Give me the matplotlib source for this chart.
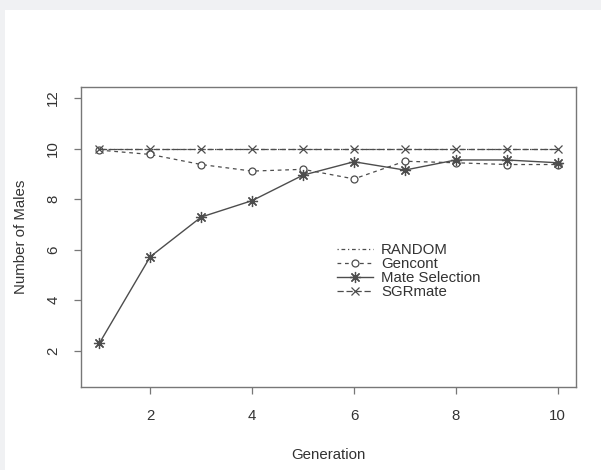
import matplotlib
matplotlib.use("Agg")
import matplotlib.pyplot as plt
from matplotlib.patches import Rectangle

plt.rcParams['font.family'] = ['Liberation Sans', 'DejaVu Sans']

generation = [1, 2, 3, 4, 5, 6, 7, 8, 9, 10]
random_males = [10, 10, 10, 10, 10, 10, 10, 10, 10, 10]
gencont_males = [9.94, 9.77, 9.37, 9.11, 9.18, 8.80, 9.50, 9.44, 9.37, 9.37]
mate_sel_males = [2.29, 5.72, 7.29, 7.94, 8.95, 9.48, 9.15, 9.55, 9.55, 9.44]
sgrmate_males = [10, 10, 10, 10, 10, 10, 10, 10, 10, 10]
x_ticks = [2, 4, 6, 8, 10]
y_ticks = [2, 4, 6, 8, 10, 12]

TEXT = '#333333'
LINE = '#4d4d4d'
FRAME = '#777777'
FS = 10.8

fig = plt.figure(figsize=(6.01, 4.70), dpi=100)
fig.patch.set_facecolor('white')

# light page border along the top and left
fig.add_artist(Rectangle((0, 1 - 10 / 470), 1, 10 / 470, transform=fig.transFigure,
                         facecolor='#f0f1f3', edgecolor='none', zorder=0))
fig.add_artist(Rectangle((0, 0), 5 / 601, 1, transform=fig.transFigure,
                         facecolor='#f0f1f3', edgecolor='none', zorder=0))

ax = fig.add_axes([81 / 601, (470 - 387) / 470, (576 - 81) / 601, (387 - 87) / 470])
ax.set_xlim(0.64, 10.36)
ax.set_ylim(0.56, 12.44)

asterisk = (8, 2, 0)

ax.plot(generation, random_males, color=LINE, lw=0.9,
        dashes=(1, 2.2, 3, 2.2), label='RANDOM')
ax.plot(generation, gencont_males, color=LINE, lw=0.9, dashes=(3, 3),
        marker='o', ms=5, mfc='white', mec=LINE, mew=0.9, label='Gencont')
ax.plot(generation, mate_sel_males, color=LINE, lw=1.0,
        marker=asterisk, ms=8, mec=LINE, mew=0.9, label='Mate Selection')
ax.plot(generation, sgrmate_males, color=LINE, lw=0.9, dashes=(5, 2.2),
        marker='x', ms=6, mec=LINE, mew=0.9, label='SGRmate')

ax.set_xticks(x_ticks)
ax.set_yticks(y_ticks)
ax.set_xticklabels([str(v) for v in x_ticks])
ax.set_yticklabels([str(v) for v in y_ticks], rotation=90, va='center')
ax.tick_params(direction='out', length=5, width=0.9, color=FRAME,
               labelcolor=TEXT, labelsize=FS)
ax.tick_params(axis='x', pad=11)
ax.tick_params(axis='y', pad=10)
for s in ax.spines.values():
    s.set_color(FRAME)
    s.set_linewidth(1.0)

ax.set_xlabel('Generation', color=TEXT, fontsize=FS, labelpad=18)
ax.set_ylabel('Number of Males', color=TEXT, fontsize=FS, labelpad=13)

leg = ax.legend(loc='upper left', bbox_to_anchor=((331 - 81) / 495, (387 - 237) / 300),
                frameon=False, fontsize=FS, handlelength=2.4, handletextpad=0.55,
                labelspacing=0.0, borderaxespad=0)
for t in leg.get_texts():
    t.set_color(TEXT)

fig.savefig('out.png', dpi=100, facecolor='white')
